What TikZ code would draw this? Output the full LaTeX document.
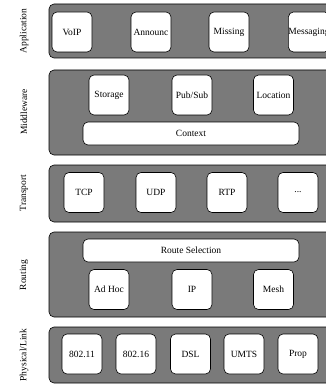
\documentclass[tikz,border=0pt]{standalone}
\usepackage{fontspec}
\setmainfont{Liberation Serif}
\usetikzlibrary{positioning}
\definecolor{layergray}{RGB}{122,122,122}

\begin{document}
\begin{tikzpicture}[x=1pt,y=-1pt,
    layer/.style={draw=black,fill=layergray,line width=0.6pt,rounded corners=5pt},
    mod/.style={draw=black,fill=white,line width=0.6pt,rounded corners=5pt,
      minimum width=40pt,minimum height=40pt,inner sep=0pt,
      font=\fontsize{9.5}{11}\selectfont},
    bar/.style={mod,minimum width=216pt,minimum height=23pt},
    side/.style={rotate=90,font=\fontsize{9.5}{11}\selectfont}]
  \useasboundingbox (0,0) rectangle (326,385);
  \clip (0,0) rectangle (326,385);
  % layers
  \draw[layer] (49,4) rectangle (345,58);
  \draw[layer] (49,70) rectangle (345,155);
  \draw[layer] (49,165) rectangle (345,222);
  \draw[layer] (49,232) rectangle (345,317);
  \draw[layer] (49,327) rectangle (345,383);
  \node[side] (lApp) at (24,31) {Application};
  \node[side] (lMid) at (24,112) {Middleware};
  \node[side] (lTra) at (24,193) {Transport};
  \node[side] (lRou) at (24,275) {Routing};
  \node[side] (lPhy) at (24,355) {Physical/Link};
  % application
  \node[mod] (voip) at (72,32) {VoIP};
  \node[mod] (ann) at (151,32) {Announc};
  \node[mod] (miss) at (229,32) {Missing};
  \node[mod] (msg) at (309,32) {Messaging};
  % middleware
  \node[mod] (stor) at (109,95) {Storage};
  \node[mod] (pub) at (192,95) {Pub/Sub};
  \node[mod] (loc) at (273.5,95) {Location};
  \node[bar] (ctx) at (191,133.5) {Context};
  % transport
  \node[mod] (tcp) at (84,192.5) {TCP};
  \node[mod] (udp) at (156,192.5) {UDP};
  \node[mod] (rtp) at (227,192.5) {RTP};
  \node[mod] (more) at (298,192.5) {...};
  % routing
  \node[bar] (route) at (191,250.5) {Route Selection};
  \node[mod] (adhoc) at (109,289.5) {Ad Hoc};
  \node[mod] (ip) at (192,289.5) {IP};
  \node[mod] (mesh) at (273.5,289.5) {Mesh};
  % physical/link
  \node[mod] (wifi) at (82,354) {802.11};
  \node[mod] (wimax) at (136,354) {802.16};
  \node[mod] (dsl) at (190.5,354) {DSL};
  \node[mod] (umts) at (244,354) {UMTS};
  \node[mod] (prop) at (298,354) {Prop};
\end{tikzpicture}
\end{document}
